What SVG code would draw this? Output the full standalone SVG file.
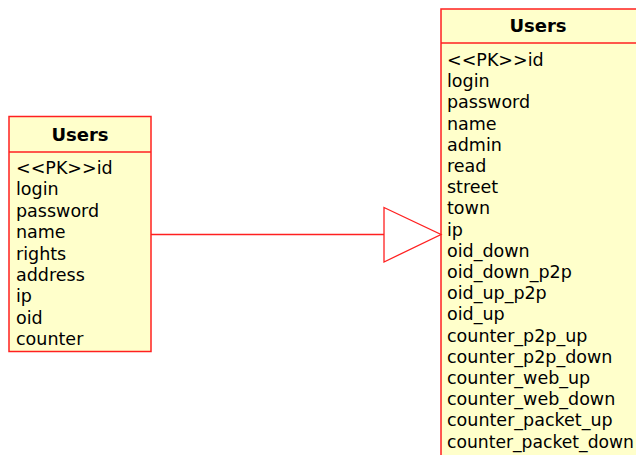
<svg xmlns="http://www.w3.org/2000/svg" width="636" height="455" viewBox="0 0 636 455">
<style>
.box{fill:#FFFFCB;stroke:#FF2020;stroke-width:1.5}
.sep{stroke:#FF2020;stroke-width:1.5}
.title{font-family:"DejaVu Sans",sans-serif;font-size:18px;font-weight:bold;fill:#000;text-anchor:middle}
.attr{font-family:"DejaVu Sans",sans-serif;font-size:17.5px;fill:#000}
.conn{fill:none;stroke:#FF2020;stroke-width:1.3}
</style>
<rect width="636" height="455" fill="#fff"/>
<g id="users-left">
<rect class="box" x="9" y="116.5" width="142" height="235"/>
<line class="sep" x1="9" y1="152" x2="151" y2="152"/>
<text class="title" x="80" y="141">Users</text>
<text class="attr" x="16" y="174">&lt;&lt;PK&gt;&gt;id</text>
<text class="attr" x="16" y="195.4">login</text>
<text class="attr" x="16" y="216.8">password</text>
<text class="attr" x="16" y="238.2">name</text>
<text class="attr" x="16" y="259.6">rights</text>
<text class="attr" x="16" y="281">address</text>
<text class="attr" x="16" y="302.4">ip</text>
<text class="attr" x="16" y="323.8">oid</text>
<text class="attr" x="16" y="345.2">counter</text>
</g>
<g id="users-right">
<rect class="box" x="441" y="9" width="198" height="460"/>
<line class="sep" x1="441" y1="43" x2="639" y2="43"/>
<text class="title" x="538" y="32">Users</text>
<text class="attr" x="447" y="66">&lt;&lt;PK&gt;&gt;id</text>
<text class="attr" x="447" y="87.2">login</text>
<text class="attr" x="447" y="108.4">password</text>
<text class="attr" x="447" y="129.6">name</text>
<text class="attr" x="447" y="150.8">admin</text>
<text class="attr" x="447" y="172">read</text>
<text class="attr" x="447" y="193.2">street</text>
<text class="attr" x="447" y="214.4">town</text>
<text class="attr" x="447" y="235.6">ip</text>
<text class="attr" x="447" y="256.8">oid_down</text>
<text class="attr" x="447" y="278">oid_down_p2p</text>
<text class="attr" x="447" y="299.2">oid_up_p2p</text>
<text class="attr" x="447" y="320.4">oid_up</text>
<text class="attr" x="447" y="341.6">counter_p2p_up</text>
<text class="attr" x="447" y="362.8">counter_p2p_down</text>
<text class="attr" x="447" y="384">counter_web_up</text>
<text class="attr" x="447" y="405.2">counter_web_down</text>
<text class="attr" x="447" y="426.4">counter_packet_up</text>
<text class="attr" x="447" y="447.6" textLength="187" lengthAdjust="spacingAndGlyphs">counter_packet_down</text>
</g>
<g id="connectors">
<line class="conn" x1="151" y1="234.5" x2="384" y2="234.5"/>
<polygon class="conn" points="384,207.5 441,234.5 384,262"/>
</g>
</svg>
